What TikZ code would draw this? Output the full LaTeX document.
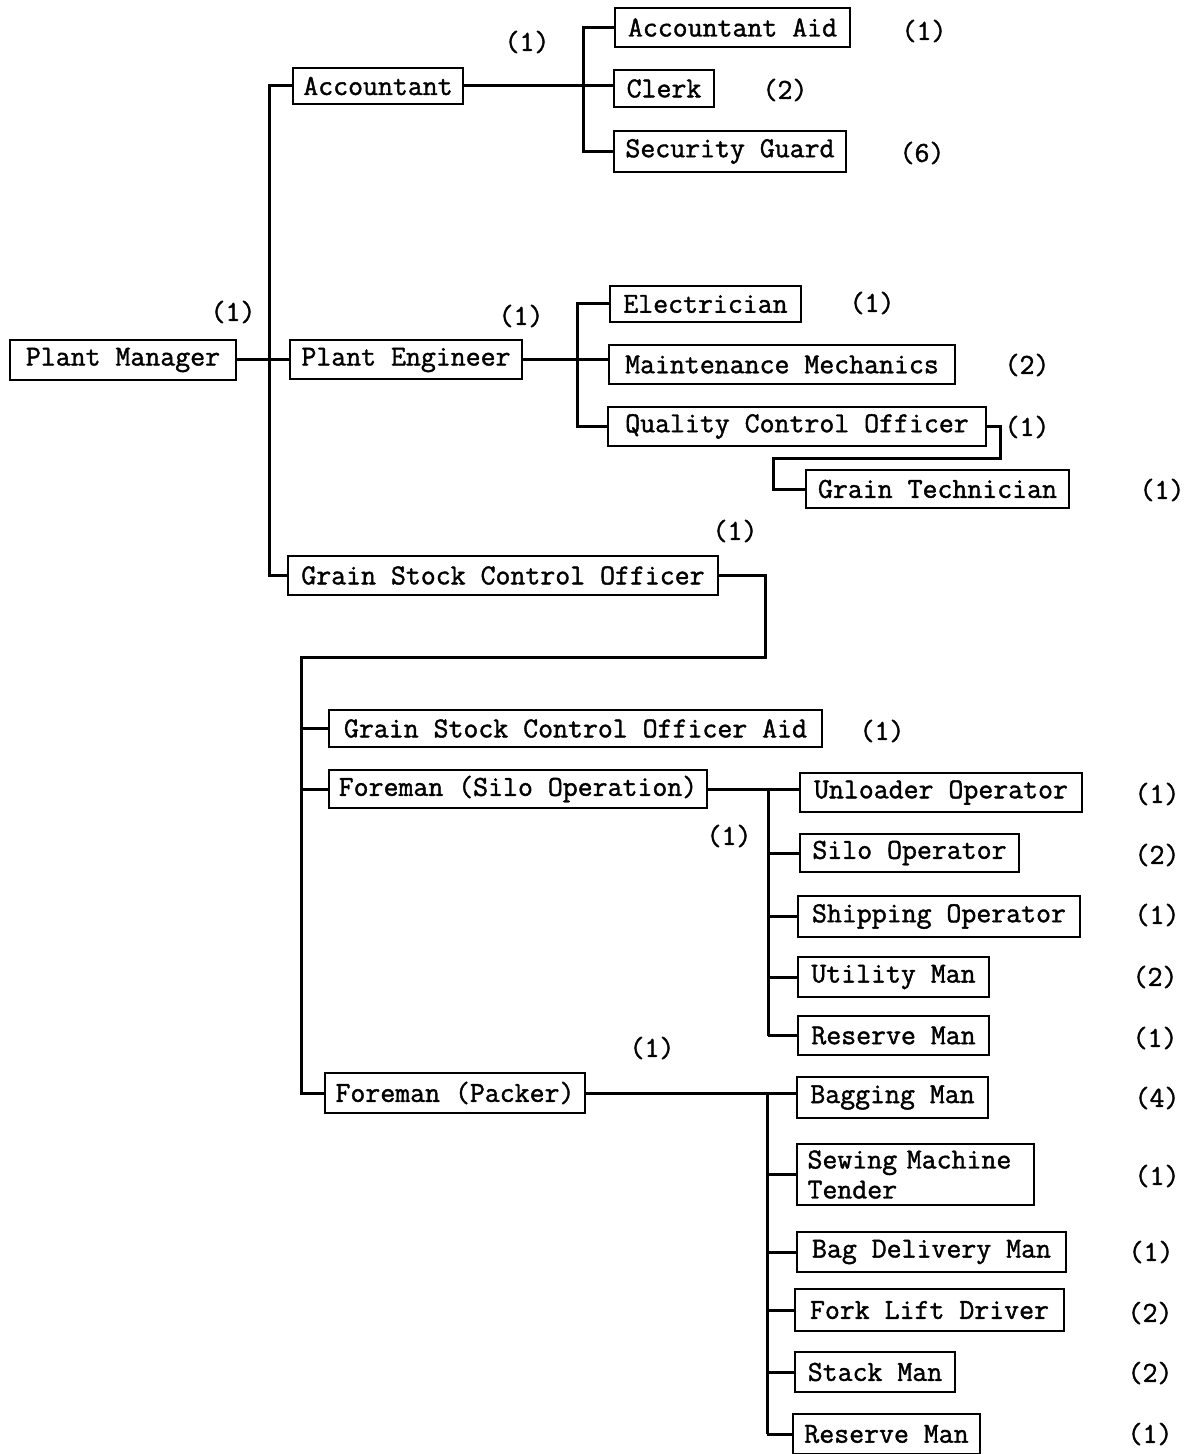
\documentclass[tikz,border=0pt]{standalone}
\usepackage{fontspec}
\newfontfamily\tw{Latin Modern Mono}[FakeBold=1.4]
\begin{document}
\begin{tikzpicture}[x=0.5pt,y=-0.5pt,
  box/.style={draw, line width=1pt, inner sep=0pt, font=\tw\fontsize{14.5}{15}\selectfont},
  cnt/.style={inner sep=0pt, font=\tw\fontsize{14.5}{15}\selectfont},
  conn/.style={line width=1.5pt}]
\useasboundingbox (0,0) rectangle (1193,1454);
% boxes
\node[box, minimum width=113pt, minimum height=20pt] (PM) at (123,360) {Plant Manager};
\node[box, minimum width=85pt, minimum height=18pt] (Acc) at (378,86) {Accountant};
\node[box, minimum width=117.5pt, minimum height=19.5pt] (AccAid) at (732.5,27.5) {Accountant Aid};
\node[box, minimum width=50pt, minimum height=18.5pt] (Clerk) at (664,88.5) {Clerk};
\node[box, minimum width=116pt, minimum height=20.5pt] (SecG) at (730,151.5) {Security Guard};
\node[box, minimum width=116pt, minimum height=19.5pt] (PE) at (406,360) {Plant Engineer};
\node[box, minimum width=95.5pt, minimum height=18pt] (Elec) at (705.5,304) {Electrician};
\node[box, minimum width=173pt, minimum height=19.5pt] (MM) at (782,364.5) {Maintenance Mechanics};
\node[box, minimum width=189pt, minimum height=19.5pt] (QCO) at (797,426.5) {Quality Control Officer};
\node[box, minimum width=131.5pt, minimum height=19pt] (GT) at (937.5,489) {Grain Technician};
\node[box, minimum width=215pt, minimum height=19.5pt] (GSCO) at (503,575.5) {Grain Stock Control Officer};
\node[box, minimum width=246.5pt, minimum height=18.5pt] (GSCOA) at (575.5,728.5) {Grain Stock Control Officer Aid};
\node[box, minimum width=189pt, minimum height=19pt] (FS) at (518,789) {Foreman (Silo Operation)};
\node[box, minimum width=141pt, minimum height=19.5pt] (UO) at (941,792.5) {Unloader Operator};
\node[box, minimum width=109.5pt, minimum height=19pt] (SO) at (909.5,853) {Silo Operator};
\node[box, minimum width=141pt, minimum height=20.5pt] (ShO) at (939,916.5) {Shipping Operator};
\node[box, minimum width=95.5pt, minimum height=20pt] (UM) at (893.5,977) {Utility Man};
\node[box, minimum width=95.5pt, minimum height=19.5pt] (RM1) at (893.5,1035.5) {Reserve Man};
\node[box, minimum width=130pt, minimum height=20pt] (FP) at (455,1093) {Foreman (Packer)};
\node[box, minimum width=95.5pt, minimum height=20.5pt] (BM) at (892.5,1097.5) {Bagging Man};
\node[box, minimum width=118.5pt, minimum height=30.5pt, align=left, text width=108pt] (SMT) at (915.5,1174.5) {Sewing Machine\\Tender};
\node[box, minimum width=134.5pt, minimum height=20pt] (BDM) at (931.5,1252) {Bag Delivery Man};
\node[box, minimum width=134.5pt, minimum height=21pt] (FLD) at (929.5,1310) {Fork Lift Driver};
\node[box, minimum width=80pt, minimum height=20pt] (StM) at (875,1372) {Stack Man};
\node[box, minimum width=93.5pt, minimum height=20pt] (RM2) at (886.5,1434) {Reserve Man};
% counts
\node[cnt] (cPM) at (233,312) {(1)};
\node[cnt] (cAcc) at (527,42) {(1)};
\node[cnt] (cAccAid) at (924,31) {(1)};
\node[cnt] (cClerk) at (785,90) {(2)};
\node[cnt] (cSecG) at (922,153) {(6)};
\node[cnt] (cPE) at (521,316) {(1)};
\node[cnt] (cElec) at (872,303) {(1)};
\node[cnt] (cMM) at (1027,365) {(2)};
\node[cnt] (cQCO) at (1027,427) {(1)};
\node[cnt] (cGT) at (1162,490) {(1)};
\node[cnt] (cGSCO) at (735,531) {(1)};
\node[cnt] (cGSCOA) at (882,731) {(1)};
\node[cnt] (cFS) at (729,836) {(1)};
\node[cnt] (cUO) at (1157,794) {(1)};
\node[cnt] (cSO) at (1157,855) {(2)};
\node[cnt] (cShO) at (1157,915) {(1)};
\node[cnt] (cUM) at (1155,977) {(2)};
\node[cnt] (cRM1) at (1155,1038) {(1)};
\node[cnt] (cFP) at (652,1048) {(1)};
\node[cnt] (cBM) at (1157,1098) {(4)};
\node[cnt] (cSMT) at (1157,1176) {(1)};
\node[cnt] (cBDM) at (1151,1252) {(1)};
\node[cnt] (cFLD) at (1150,1313) {(2)};
\node[cnt] (cStM) at (1150,1373) {(2)};
\node[cnt] (cRM2) at (1150,1434) {(1)};
% bus coordinates
\coordinate (tr) at (269,0);
\coordinate (ab) at (583,0);
\coordinate (pb) at (577,0);
\coordinate (q1) at (1000,458);
\coordinate (q2) at (773,458);
\coordinate (g1) at (765,657);
\coordinate (g2) at (301,657);
\coordinate (sb) at (768,0);
\coordinate (kb) at (767,0);
% connectors
\draw[conn] (PM.east) -- (PE.west);
\draw[conn] (Acc.west) -- (Acc.west -| tr) -- (GSCO.west -| tr) -- (GSCO.west);
\draw[conn] (Acc.east) -- (Acc.east -| Clerk.west);
\draw[conn] (AccAid.west) -- (AccAid.west -| ab) -- (SecG.west -| ab) -- (SecG.west);
\draw[conn] (PE.east) -- (PE.east -| MM.west);
\draw[conn] (Elec.west) -- (Elec.west -| pb) -- (QCO.west -| pb) -- (QCO.west);
\draw[conn] (QCO.east) -| (q1) -- (q2) |- (GT.west);
\draw[conn] (GSCO.east) -| (g1) -- (g2) |- (FP.west);
\draw[conn] (GSCOA.west) -- (GSCOA.west -| g2);
\draw[conn] (FS.west) -- (FS.west -| g2);
\draw[conn] (FS.east) -- (FS.east -| UO.west);
\draw[conn] (FS.east -| sb) -- (RM1.west -| sb);
\foreach \n in {SO,ShO,UM,RM1} \draw[conn] (\n.west -| sb) -- (\n.west);
\draw[conn] (FP.east) -- (FP.east -| BM.west);
\draw[conn] (FP.east -| kb) -- (RM2.west -| kb);
\foreach \n in {SMT,BDM,FLD,StM,RM2} \draw[conn] (\n.west -| kb) -- (\n.west);
\end{tikzpicture}
\end{document}
